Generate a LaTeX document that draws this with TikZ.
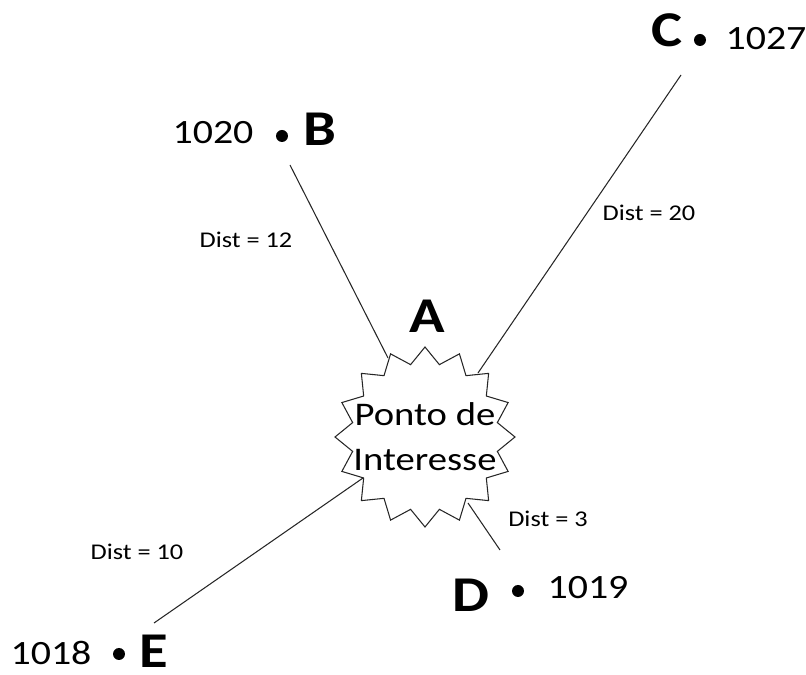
\documentclass[tikz,border=0pt]{standalone}
\usepackage{fontspec}
\setmainfont{Carlito}[FakeStretch=1.17]
\usepackage{tikz}
\usetikzlibrary{shapes.geometric}

\begin{document}
\begin{tikzpicture}[x=0.02cm,y=-0.02cm,
		ptdot/.style={circle,fill=black,inner sep=0pt,minimum size=0.24cm},
		num/.style={inner sep=0pt,font=\fontsize{19.4}{23}\selectfont},
		letter/.style={inner sep=0pt,font=\fontsize{28.5}{32}\selectfont\bfseries},
		dist/.style={inner sep=0pt,font=\fontsize{12.8}{15}\selectfont},
		burst/.style={star,star points=16,star point ratio=1.22,minimum size=3.6cm,inner sep=0pt,draw=black!85,line width=0.6pt},
		link/.style={draw=black!85,line width=0.6pt}]
		\useasboundingbox (0,0) rectangle (806,675);
		
		\node[burst] (poi) at (425,437) {};
		\node[inner sep=0pt,align=center,font=\fontsize{18.8}{25.6}\selectfont] (poiText) at (425,437) {Ponto de\\Interesse};
		\node[letter] (labA) at (427,316) {A};
		
		\node[ptdot] (dotB) at (282,136) {};
		\node[letter] (labB) at (320,129) {B};
		\node[num] (numB) at (213,133) {1020};
		
		\node[ptdot] (dotC) at (700,40) {};
		\node[letter] (labC) at (667,30) {C};
		\node[num] (numC) at (766,39) {1027};
		
		\node[ptdot] (dotD) at (518,591) {};
		\node[letter] (labD) at (471,595) {D};
		\node[num] (numD) at (588,588) {1019};
		
		\node[ptdot] (dotE) at (119,654) {};
		\node[letter] (labE) at (154,651) {E};
		\node[num] (numE) at (51,653) {1018};
		
		\coordinate (endB) at (290,165);
		\coordinate (poiB) at (388,358);
		\coordinate (endC) at (681,75);
		\coordinate (poiC) at (478,373);
		\coordinate (endD) at (500,550);
		\coordinate (poiD) at (468,503);
		\coordinate (endE) at (154,623);
		\coordinate (poiE) at (363,478);
		
		\draw[link] (endB) -- (poiB);
		\draw[link] (endC) -- (poiC);
		\draw[link] (poiD) -- (endD);
		\draw[link] (endE) -- (poiE);
		
		\node[dist] (distB) at (246,240) {Dist = 12};
		\node[dist] (distC) at (649,213) {Dist = 20};
		\node[dist] (distD) at (548,519) {Dist = 3};
		\node[dist] (distE) at (137,552) {Dist = 10};
	\end{tikzpicture}
\end{document}
